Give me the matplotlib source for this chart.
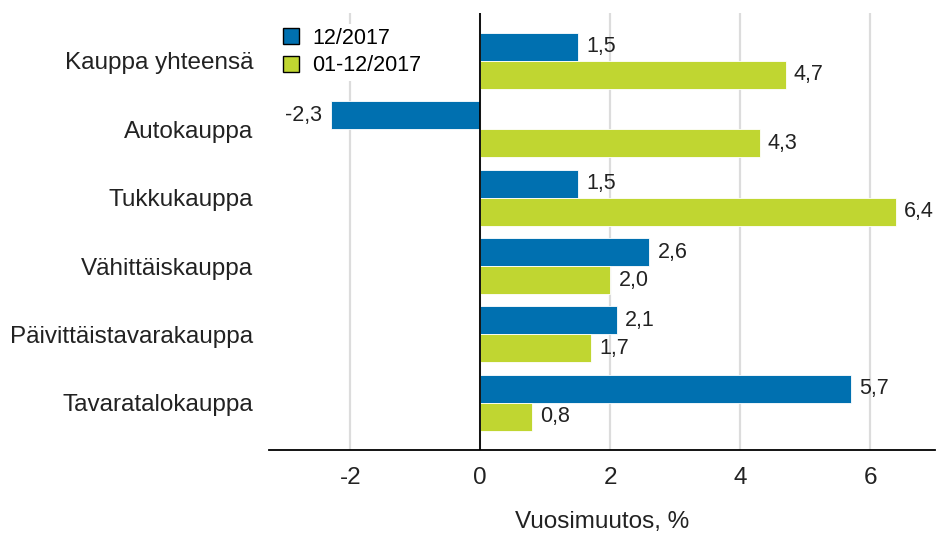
import matplotlib
matplotlib.use("Agg")
import matplotlib.pyplot as plt
import numpy as np

plt.rcParams['font.family'] = ['Liberation Sans', 'DejaVu Sans']

categories = ["Kauppa yhteensä", "Autokauppa", "Tukkukauppa", "Vähittäiskauppa",
              "Päivittäistavarakauppa", "Tavaratalokauppa"]
series_names = ["12/2017", "01-12/2017"]
values_dec = [1.5, -2.3, 1.5, 2.6, 2.1, 5.7]
values_year = [4.7, 4.3, 6.4, 2.0, 1.7, 0.8]
xticks = [-2, 0, 2, 4, 6]
xlabel = "Vuosimuutos, %"

blue = "#0070B0"
green = "#C0D631"

fig = plt.figure(figsize=(9.41, 5.33), dpi=100)
ax = fig.add_axes([269/941, 1-450/533, (935-269)/941, (450-13)/533])

y = np.arange(len(categories))
h = 0.41
b1 = ax.barh(y - h/2, values_dec, height=h, color=blue, edgecolor="white", linewidth=0.6,
             label=series_names[0], zorder=3)
b2 = ax.barh(y + h/2, values_year, height=h, color=green, edgecolor="white", linewidth=0.6,
             label=series_names[1], zorder=3)

def fmt(v):
    return f"{v:.1f}".replace(".", ",")

for bars, vals in ((b1, values_dec), (b2, values_year)):
    for rect, v in zip(bars, vals):
        yc = rect.get_y() + rect.get_height()/2
        if v >= 0:
            ax.annotate(fmt(v), (v, yc), xytext=(6, 0), textcoords="offset points",
                        ha="left", va="center", fontsize=15.5, color="#222222")
        else:
            ax.annotate(fmt(v), (v, yc), xytext=(-6, 0), textcoords="offset points",
                        ha="right", va="center", fontsize=15.5, color="#222222")

ax.set_xlim(-3.25, 7.0)
ax.set_ylim(len(categories) - 1 + 0.69, -0.70)
ax.set_xticks(xticks)
ax.set_xticklabels([str(t) for t in xticks])
ax.set_yticks(y)
ax.set_yticklabels(categories)
ax.tick_params(axis="both", length=0, labelsize=17.5, colors="#222222")
ax.tick_params(axis="y", pad=11.5)
ax.tick_params(axis="x", pad=12)

ax.grid(axis="x", color="#dcdcdc", linewidth=1.6, zorder=0)
ax.axvline(0, color="black", linewidth=1.3, zorder=4)
for s in ("top", "right", "left"):
    ax.spines[s].set_visible(False)
ax.spines["bottom"].set_linewidth(1.3)
ax.spines["bottom"].set_color("black")

ax.set_xlabel(xlabel, fontsize=17.5, color="#222222", labelpad=16)

leg = ax.legend(loc="upper left", bbox_to_anchor=(-0.0015, 1.0005), frameon=True,
                fontsize=15.5, handlelength=0.75, handleheight=0.75, handletextpad=0.6,
                labelspacing=0.3, borderaxespad=0.5, borderpad=0.2,
                facecolor="white", edgecolor="none", framealpha=1.0, fancybox=False)
leg.set_zorder(5)
for p in leg.get_patches():
    p.set_edgecolor("black")
    p.set_linewidth(1.0)

fig.savefig("out.png", dpi=100)
